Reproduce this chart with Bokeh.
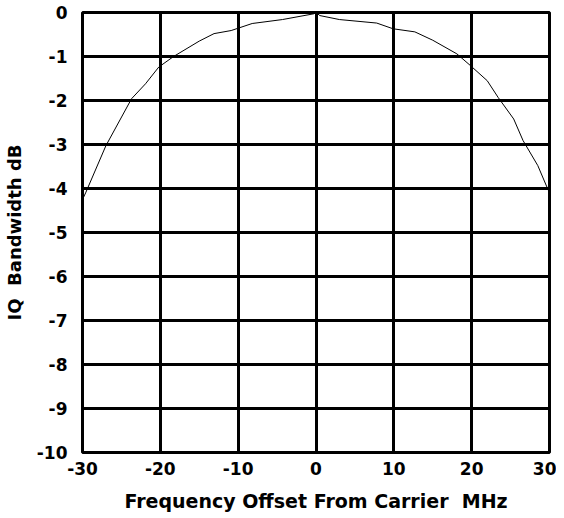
from bokeh.plotting import figure
from bokeh.models import FixedTicker, Range1d
from bokeh.embed import file_html
from bokeh.resources import INLINE

freq_mhz = [-30, -29.6, -27.0, -23.7, -21.9, -20.2, -18.3, -15.0, -13.1, -10.9, -8.2, -4.3, -0.3, 0.0,
            0.5, 3.0, 7.8, 9.9, 12.7, 15.0, 18.1, 19.8, 22.0, 23.4, 25.4, 26.6, 28.5, 29.7, 30]
bw_db = [-4.25, -4.1, -3.03, -1.96, -1.62, -1.24, -1.0, -0.65, -0.48, -0.41, -0.25, -0.16, -0.03, 0.0,
         -0.07, -0.16, -0.24, -0.37, -0.44, -0.63, -0.94, -1.2, -1.55, -1.93, -2.42, -2.91, -3.48, -3.98, -4.1]
x_ticks = [-30, -20, -10, 0, 10, 20, 30]
y_ticks = [0, -1, -2, -3, -4, -5, -6, -7, -8, -9, -10]

p = figure(width=556, height=516, output_backend="svg", toolbar_location=None,
           x_range=Range1d(-30, 30), y_range=Range1d(-10, 0),
           min_border_left=82, min_border_right=7, min_border_top=12, min_border_bottom=64)

p.line(freq_mhz, bw_db, line_color="black", line_width=1)

font = "DejaVu Sans"
for ax in (p.xaxis[0], p.yaxis[0]):
    ax.axis_line_color = None
    ax.major_tick_line_color = None
    ax.minor_tick_line_color = None
    ax.major_label_text_font = font
    ax.major_label_text_font_style = "bold"
    ax.major_label_text_font_size = "17px"
    ax.major_label_text_color = "black"
    ax.axis_label_text_font = font
    ax.axis_label_text_font_style = "bold"
    ax.axis_label_text_color = "black"

p.xaxis.axis_label_text_font_size = "19px"
p.yaxis.axis_label_text_font_size = "18px"
p.xaxis.ticker = FixedTicker(ticks=x_ticks)
p.yaxis.ticker = FixedTicker(ticks=y_ticks)
p.xaxis.major_label_overrides = {t: str(t) for t in x_ticks}
p.yaxis.major_label_overrides = {t: str(t) for t in y_ticks}
p.xaxis.axis_label = "Frequency Offset From Carrier\u00a0\u00a0MHz"
p.yaxis.axis_label = "IQ\u00a0\u00a0Bandwidth dB"
p.xaxis.major_label_standoff = 3
p.yaxis.major_label_standoff = 9
p.xaxis.axis_label_standoff = 12
p.yaxis.axis_label_standoff = 9

p.xgrid.grid_line_color = "black"
p.ygrid.grid_line_color = "black"
p.xgrid.grid_line_width = 3
p.ygrid.grid_line_width = 3
p.xgrid.grid_line_alpha = 1
p.ygrid.grid_line_alpha = 1

p.outline_line_color = "black"
p.outline_line_width = 3
p.outline_line_alpha = 1
p.background_fill_color = "white"
p.border_fill_color = "white"

open("out.html", "w").write(file_html(p, INLINE))
